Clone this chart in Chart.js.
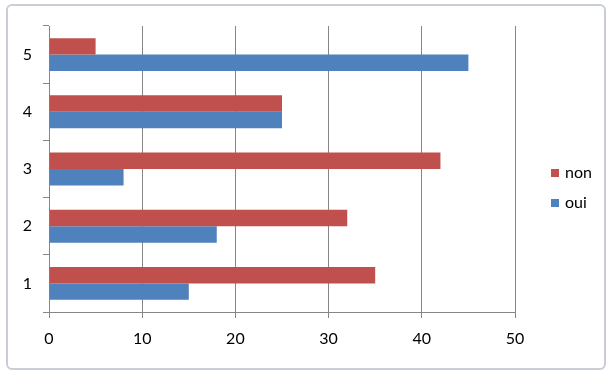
<!DOCTYPE html>
<html lang="fr">
<head>
    <meta charset="UTF-8">
    <title>oui / non</title>
    <script src="https://cdn.jsdelivr.net/npm/chart.js@4.4.1/dist/chart.umd.min.js"></script>
    <style>
        body { margin: 0; background: #fff; }
        #frame {
            position: absolute; left: 6px; top: 4px;
            width: 596px; height: 362px;
            border: 2px solid #c9cdd6;
            border-radius: 6px;
            background: #fff;
        }
        #c { position: absolute; left: 0; top: 0; }
    </style>
</head>
<body>
    <div id="frame"></div>
    <canvas id="c" width="607" height="378"></canvas>

    <script>
    var categories = ['1', '2', '3', '4', '5'];
    var non = [35, 32, 42, 25, 5];
    var oui = [15, 18, 8, 25, 45];
    var xMin = 0, xMax = 50, xStep = 10;

    var font = { family: 'Lato', size: 16 };
    var gridGray = '#868686';

    // legend on the right side, one row per series
    var sideLegend = {
        id: 'sideLegend',
        afterDraw: function(chart) {
            var ctx = chart.ctx;
            ctx.save();
            ctx.font = font.size + 'px ' + font.family;
            ctx.textBaseline = 'middle';
            ctx.textAlign = 'left';
            chart.data.datasets.forEach(function(ds, i) {
                var y = 173 + i * 30;
                ctx.fillStyle = ds.backgroundColor;
                ctx.fillRect(551, y - 4, 8, 8);
                ctx.fillStyle = '#000';
                ctx.fillText(ds.label, 565, y);
            });
            ctx.restore();
        }
    };

    var ctx = document.getElementById('c').getContext('2d');
    var chart = new Chart(ctx, {
        type: 'bar',
        data: {
            labels: categories,
            datasets: [
                { label: 'non', data: non, backgroundColor: '#C0504D', borderWidth: 0 },
                { label: 'oui', data: oui, backgroundColor: '#4F81BD', borderWidth: 0 }
            ]
        },
        options: {
            indexAxis: 'y',
            responsive: false,
            animation: false,
            categoryPercentage: 0.575,
            barPercentage: 1,
            layout: { padding: { top: 26, right: 92, left: 0, bottom: 0 } },
            plugins: {
                legend: { display: false },
                tooltip: { enabled: false }
            },
            scales: {
                x: {
                    min: xMin, max: xMax,
                    ticks: { stepSize: xStep, color: '#000', font: font, padding: 11 },
                    grid: { color: gridGray, tickLength: 6 },
                    border: { color: gridGray },
                    afterFit: function(s) { s.height = 66; }
                },
                y: {
                    reverse: true,
                    ticks: { color: '#000', font: font, padding: 11 },
                    grid: { offset: true, drawOnChartArea: false, tickLength: 6, color: gridGray },
                    border: { color: gridGray },
                    afterFit: function(s) { s.width = 49; }
                }
            }
        },
        plugins: [sideLegend]
    });
    </script>
</body>
</html>
